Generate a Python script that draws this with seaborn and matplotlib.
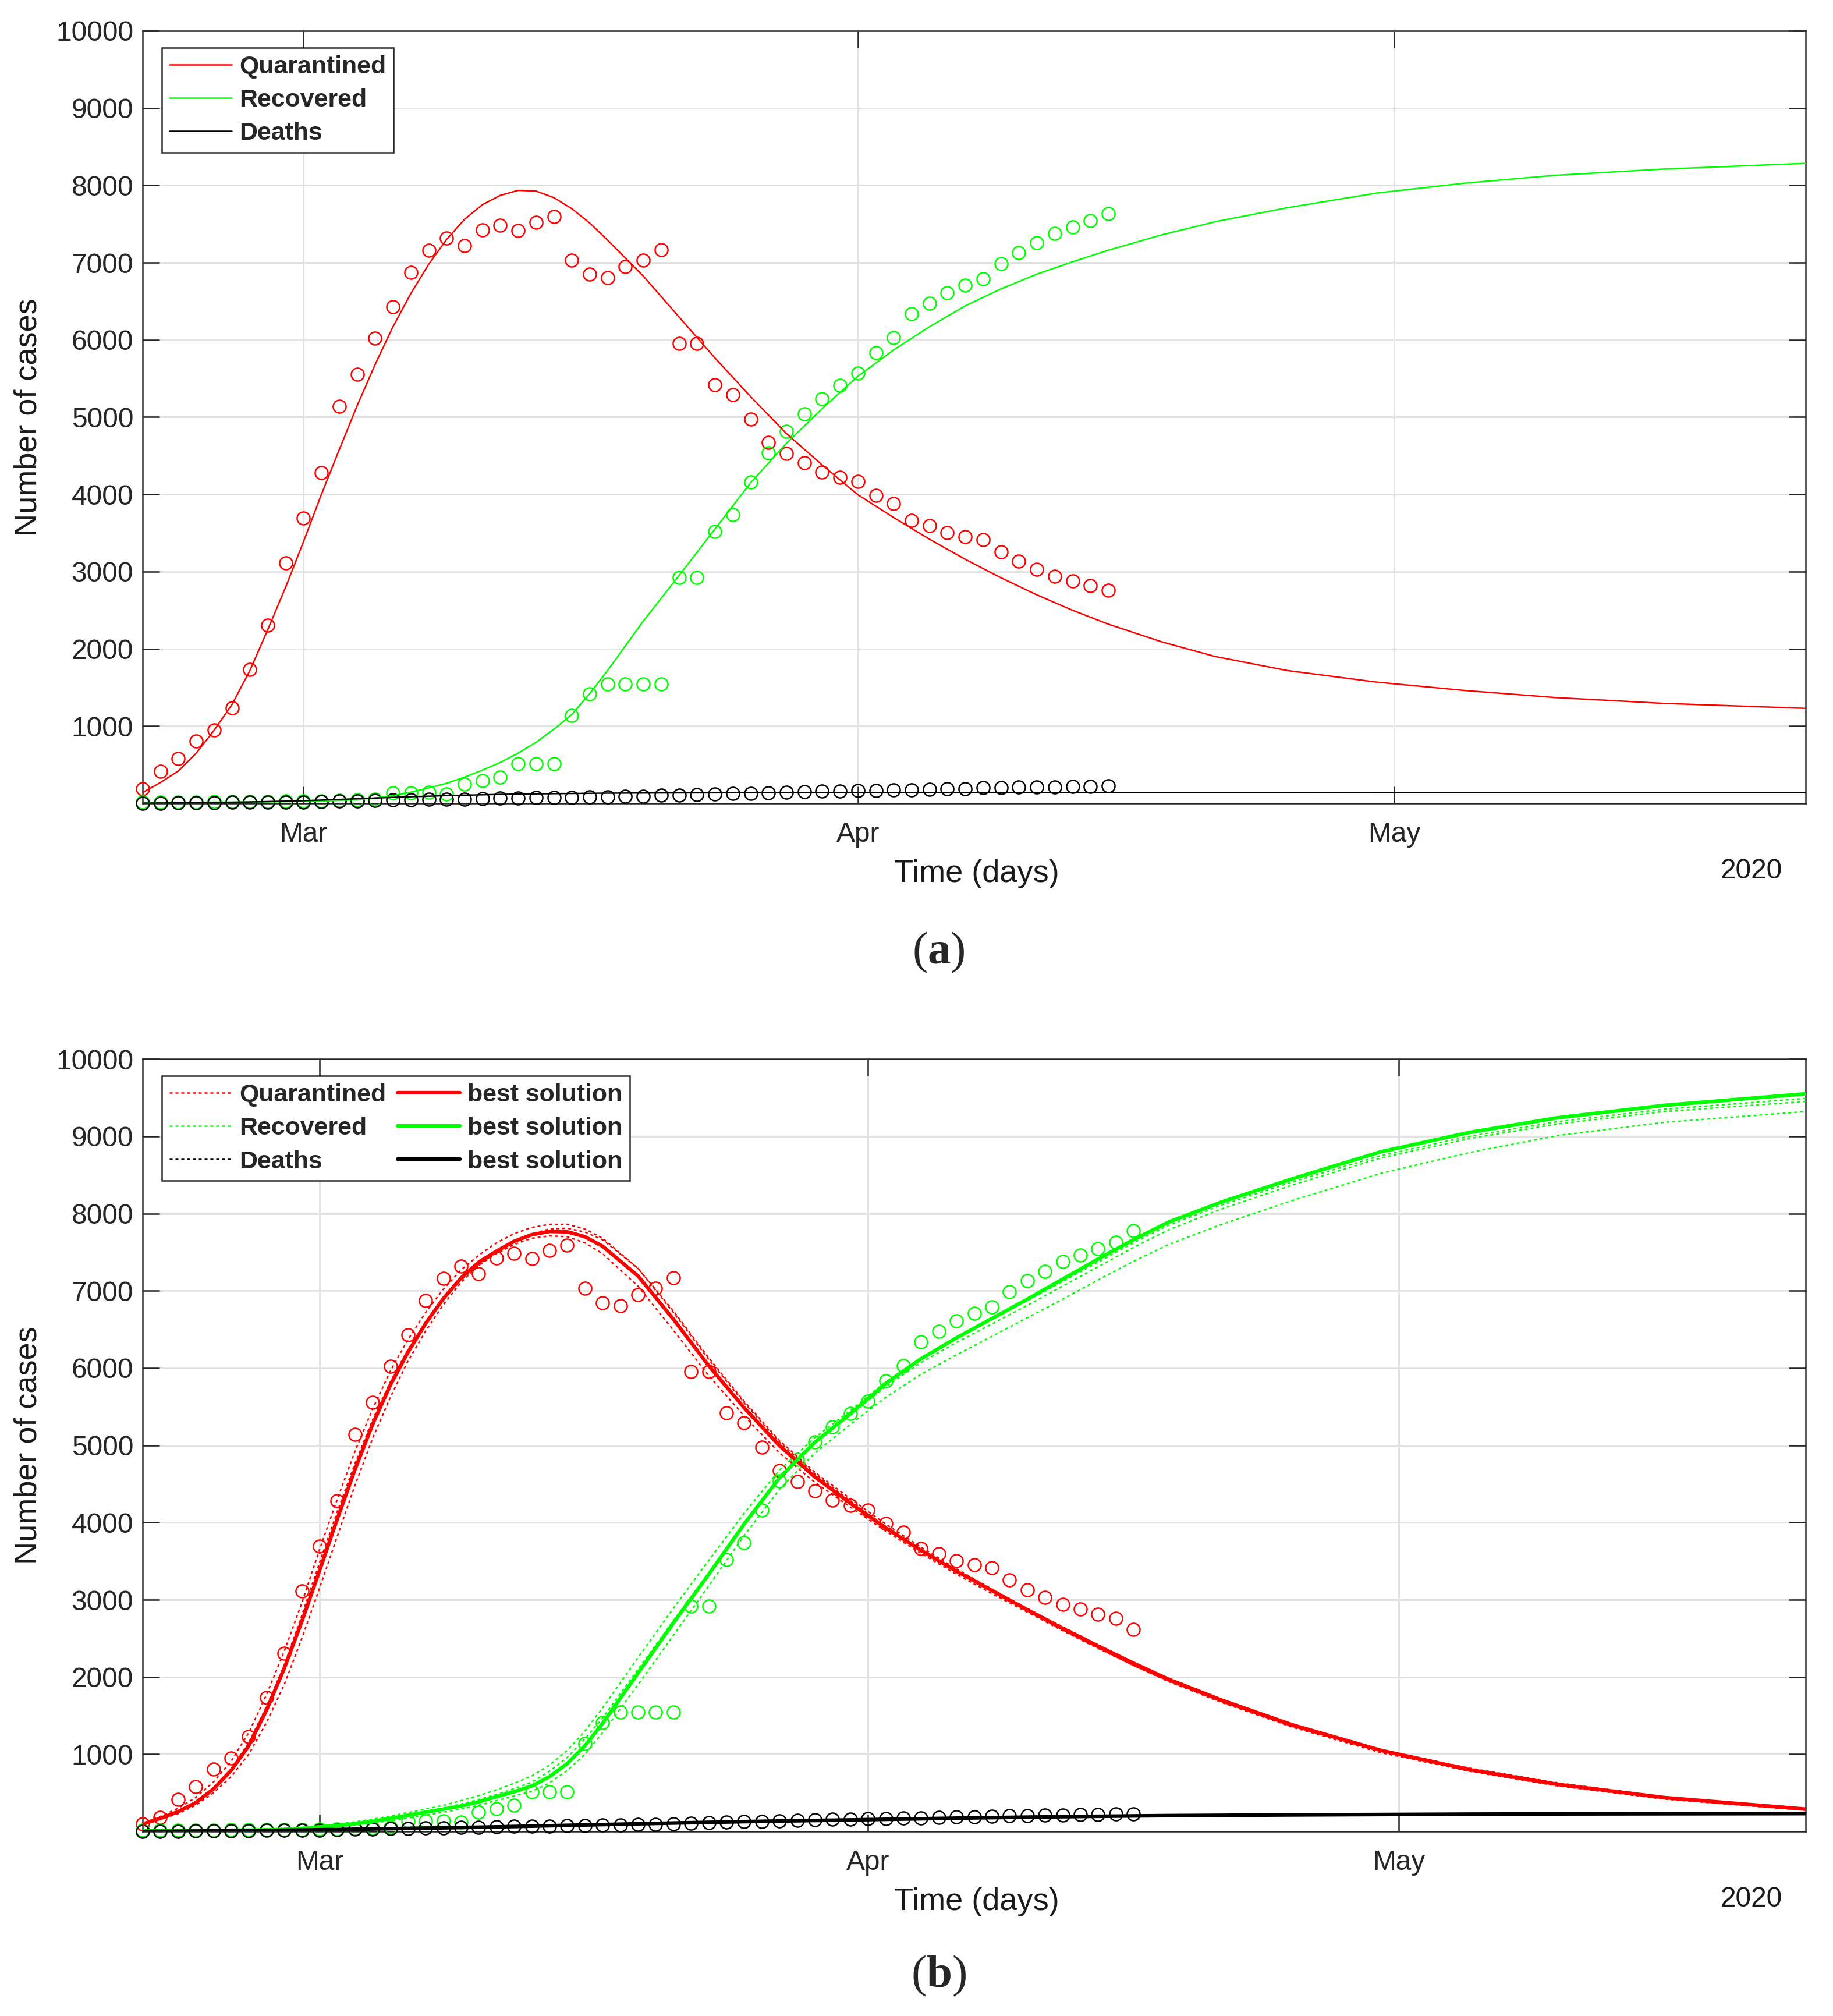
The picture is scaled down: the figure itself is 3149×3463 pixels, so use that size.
import numpy as np
import pandas as pd
import matplotlib
matplotlib.use('Agg')
import matplotlib.pyplot as plt
import matplotlib.dates as mdates
from matplotlib.lines import Line2D
import seaborn as sns

# observed data, one value per day from 20 Feb to 16 Apr 2020
data_start = '2020-02-20'
quarantined_obs = [98,
                   185, 418, 582, 810, 947, 1233, 1735, 2307, 3111, 3693,
                   4280, 5138, 5556, 6021, 6429, 6873, 7159, 7317, 7222, 7423,
                   7481, 7413, 7519, 7593, 7032, 6847, 6804, 6947, 7032, 7169,
                   5952, 5952, 5418, 5291, 4974, 4672, 4529, 4407, 4286, 4222,
                   4164, 3984, 3878, 3661, 3598, 3503, 3450, 3413, 3254, 3132,
                   3032, 2937, 2878, 2815, 2757,
                   2615]
recovered_obs = [16,
                 16, 16, 18, 18, 22, 22, 22, 22, 27, 30,
                 30, 41, 45, 55, 135, 135, 140, 120, 250, 296,
                 338, 513, 513, 513, 1138, 1413, 1545, 1545, 1545, 1545,
                 2921, 2921, 3519, 3741, 4159, 4534, 4815, 5042, 5238, 5413,
                 5571, 5836, 6032, 6339, 6476, 6608, 6709, 6788, 6989, 7132,
                 7254, 7381, 7460, 7545, 7630,
                 7776]
deaths_obs = [1,
              2, 2, 6, 8, 11, 12, 13, 16, 17, 17,
              22, 28, 32, 35, 42, 44, 50, 51, 54, 60,
              66, 67, 72, 75, 75, 81, 84, 91, 94, 102,
              104, 111, 120, 126, 131, 139, 144, 152, 158, 162,
              165, 169, 174, 177, 183, 186, 192, 200, 204, 208,
              211, 214, 217, 222, 225,
              229]

# model curve of panel (a), days counted from 20 Feb
fit_days_a = [1, 2, 3, 4, 5, 6, 7, 8, 9, 10, 11, 12, 13, 14, 15, 16, 17, 18, 19, 20,
              21, 22, 23, 24, 25, 26, 27, 29, 31, 33, 35, 37, 39,
              41, 43, 45, 47, 49, 51, 53, 55, 58, 61, 65, 70, 75, 80, 86, 94]
quar_fit_a = [140, 270, 420, 650, 947, 1280, 1720, 2250, 2800, 3390,
              4000, 4580, 5150, 5680, 6170, 6600, 6980, 7300, 7560, 7750,
              7870, 7935, 7926, 7841, 7698, 7513, 7291,
              6825, 6296, 5767, 5265, 4788, 4380,
              3995, 3700, 3420, 3160, 2920, 2700, 2500, 2320, 2090, 1900,
              1720, 1570, 1460, 1370, 1295, 1230]
rec_fit_a = [10, 11, 12, 13, 15, 16, 18, 20, 22, 26,
             30, 38, 50, 70, 100, 145, 200, 260, 340, 430,
             530, 650, 790, 960, 1150, 1420, 1720,
             2360, 2950, 3550, 4150, 4660, 5110,
             5529, 5870, 6170, 6440, 6660, 6850, 7010, 7160, 7360, 7530,
             7710, 7900, 8030, 8130, 8210, 8285]
death_fit_a = [3, 4, 6, 8, 11, 14, 18, 23, 28, 35,
               42, 51, 60, 69, 78, 86, 93, 100, 106, 111,
               116, 120, 123, 126, 128, 130, 132,
               134, 136, 137, 138, 138, 139,
               139, 139, 139, 140, 140, 140, 140, 140, 140, 140,
               140, 141, 141, 141, 141, 141]

# model runs of panel (b)
fit_days_b = [0, 1, 2, 3, 4, 5, 6, 7, 8, 9, 10, 11, 12, 13, 14, 15, 16, 17, 18, 19,
              20, 21, 22, 23, 24, 25, 26, 28, 30, 32, 34, 36, 38, 40,
              42, 44, 46, 48, 50, 52, 54, 56, 58, 61, 65, 70, 75, 80, 86, 94]
quar_best_b = [97, 170, 256, 374, 550, 790, 1110, 1570, 2110, 2720,
               3378, 4044, 4685, 5271, 5778, 6205, 6578, 6899, 7165, 7370,
               7512, 7640, 7726, 7768, 7763, 7699, 7576,
               7192, 6632, 6029, 5485, 4994, 4590, 4250,
               3930, 3640, 3370, 3120, 2870, 2630, 2400, 2180, 1970, 1700,
               1380, 1050, 800, 610, 440, 290]
quar_run1_b = [110, 195, 300, 440, 640, 910, 1280, 1770, 2330, 2960,
               3650, 4300, 4920, 5470, 5960, 6370, 6720, 7020, 7270, 7460,
               7620, 7740, 7820, 7860, 7860, 7800, 7680,
               7290, 6720, 6110, 5550, 5040, 4630, 4280,
               3950, 3650, 3370, 3110, 2860, 2610, 2380, 2150, 1940, 1670,
               1350, 1020, 780, 590, 420, 275]
quar_run2_b = [95, 165, 250, 380, 560, 810, 1150, 1620, 2150, 2800,
               3480, 4140, 4760, 5330, 5820, 6240, 6590, 6890, 7140, 7330,
               7480, 7600, 7680, 7710, 7700, 7620, 7480,
               7060, 6490, 5900, 5380, 4900, 4520, 4200,
               3890, 3600, 3330, 3080, 2840, 2600, 2370, 2150, 1950, 1680,
               1360, 1040, 800, 610, 430, 280]
quar_run3_b = [90, 155, 230, 340, 500, 710, 1000, 1410, 1900, 2500,
               3150, 3820, 4480, 5090, 5620, 6090, 6480, 6820, 7110, 7330,
               7500, 7630, 7740, 7800, 7810, 7760, 7660,
               7290, 6740, 6130, 5570, 5060, 4650, 4310,
               3980, 3680, 3400, 3140, 2890, 2650, 2420, 2190, 1980, 1710,
               1390, 1060, 820, 630, 450, 300]
rec_best_b = [8, 9, 10, 12, 14, 16, 18, 22, 28, 40,
              60, 78, 100, 130, 170, 210, 250, 290, 330, 385,
              450, 515, 590, 710, 880, 1110, 1400,
              2050, 2700, 3330, 3980, 4580, 5040, 5408,
              5800, 6120, 6390, 6640, 6890, 7150, 7410, 7660, 7890, 8150,
              8450, 8800, 9050, 9240, 9400, 9550]
rec_run1_b = [10, 11, 12, 14, 16, 19, 22, 27, 35, 50,
              75, 98, 125, 160, 200, 245, 290, 340, 400, 465,
              540, 625, 720, 860, 1050, 1300, 1600,
              2250, 2890, 3510, 4120, 4680, 5100, 5450,
              5820, 6130, 6390, 6630, 6870, 7120, 7370, 7620, 7850, 8110,
              8410, 8750, 9000, 9190, 9350, 9490]
rec_run2_b = [7, 8, 9, 10, 12, 14, 16, 19, 24, 34,
              50, 66, 85, 110, 140, 175, 210, 250, 290, 340,
              400, 460, 520, 630, 790, 1000, 1280,
              1900, 2540, 3180, 3830, 4430, 4900, 5270,
              5620, 5920, 6170, 6410, 6650, 6890, 7140, 7380, 7600, 7860,
              8170, 8520, 8790, 9010, 9180, 9320]
rec_run3_b = [8, 9, 11, 13, 15, 17, 20, 24, 31, 45,
              65, 85, 110, 140, 175, 215, 260, 305, 355, 415,
              480, 555, 640, 780, 960, 1200, 1470,
              2100, 2730, 3350, 3990, 4580, 5030, 5390,
              5760, 6070, 6330, 6570, 6810, 7060, 7310, 7560, 7790, 8060,
              8370, 8720, 8970, 9160, 9320, 9450]
death_best_b = [1, 2, 4, 6, 8, 10, 12, 14, 17, 20,
                23, 26, 30, 33, 37, 40, 44, 48, 52, 56,
                60, 65, 70, 75, 80, 85, 90,
                100, 110, 119, 128, 136, 143, 150,
                158, 165, 173, 180, 186, 192, 197, 202, 206, 210,
                215, 220, 225, 228, 230, 232]
death_run1_b = [1, 2, 4, 6, 9, 11, 13, 16, 19, 22,
                25, 29, 33, 36, 40, 44, 48, 52, 56, 60,
                64, 69, 74, 79, 84, 89, 94,
                104, 114, 123, 132, 140, 147, 154,
                162, 169, 176, 183, 189, 195, 200, 205, 209, 213,
                218, 223, 228, 231, 233, 235]
death_run2_b = [1, 2, 3, 5, 7, 9, 11, 13, 15, 18,
                21, 24, 27, 30, 34, 37, 41, 44, 48, 52,
                56, 61, 66, 71, 76, 81, 86,
                96, 106, 115, 124, 132, 139, 146,
                154, 161, 169, 176, 182, 188, 193, 198, 202, 206,
                211, 216, 221, 224, 226, 228]

sns.set_theme(style='white')
plt.rcParams['font.family'] = ['Liberation Sans', 'DejaVu Sans']
plt.rcParams['mathtext.fontset'] = 'custom'
plt.rcParams['mathtext.rm'] = 'Liberation Serif'
plt.rcParams['mathtext.bf'] = 'Liberation Serif:bold'

RED, GREEN, BLACK = '#ff0000', '#00ff00', '#000000'
AXC = '#262626'
DOT = (0, (2.0, 2.0))

origin = mdates.date2num(pd.Timestamp(data_start))


def xs(days):
    return origin + np.asarray(days, dtype=float)


def plot_obs(ax, days, vals, color):
    sns.lineplot(x=xs(days), y=vals, ax=ax, color=color, linestyle='none',
                 marker='o', markersize=5.3, markerfacecolor='none',
                 markeredgecolor=color, markeredgewidth=0.6,
                 estimator=None, errorbar=None, legend=False, clip_on=False, zorder=3)


def plot_fit(ax, days, vals, color, lw, ls='-'):
    sns.lineplot(x=xs(days), y=vals, ax=ax, color=color, linewidth=lw, linestyle=ls,
                 estimator=None, errorbar=None, sort=False, legend=False, zorder=4)


def style_axes(ax, first_day):
    ax.set_xlim(xs([first_day, 94]))
    ax.set_ylim(0, 10000)
    ax.set_yticks(range(1000, 10001, 1000))
    ax.xaxis.set_major_locator(mdates.MonthLocator())
    ax.xaxis.set_major_formatter(mdates.DateFormatter('%b'))
    ax.grid(True, color='#e2e2e2', linewidth=0.7)
    ax.set_axisbelow(True)
    ax.tick_params(direction='in', length=6.9, width=0.6, color=AXC, labelcolor=AXC,
                   labelsize=11.5, top=True, right=True, bottom=True, left=True)
    ax.tick_params(axis='x', pad=7.5)
    ax.tick_params(axis='y', pad=3.8)
    for s in ax.spines.values():
        s.set_visible(True)
        s.set_color(AXC)
        s.set_linewidth(0.6)
    ax.set_xlabel('')
    ax.set_ylabel('')
    ax.text(-0.0686, 0.5, 'Number of cases', rotation=90, ha='center', va='center',
            transform=ax.transAxes, fontsize=13, color='#1a1a1a')
    ax.text(0.5016, -0.091, 'Time (days)', ha='center', va='center',
            transform=ax.transAxes, fontsize=13, color='#1a1a1a')
    ax.text(0.986, -0.088, '2020', ha='right', va='center',
            transform=ax.transAxes, fontsize=11.5, color='#1a1a1a')


fig = plt.figure(figsize=(3149 / 300, 3463 / 300), dpi=300)
ax_a = fig.add_axes([0.0778, 0.6015, 0.9073, 0.3832])
ax_b = fig.add_axes([0.0778, 0.0915, 0.9073, 0.3832])

obs_days = np.arange(len(quarantined_obs))

# (a) single fit, data from 21 Feb to 15 Apr
plot_obs(ax_a, obs_days[1:-1], quarantined_obs[1:-1], RED)
plot_obs(ax_a, obs_days[1:-1], recovered_obs[1:-1], GREEN)
plot_obs(ax_a, obs_days[1:-1], deaths_obs[1:-1], BLACK)
plot_fit(ax_a, fit_days_a, quar_fit_a, RED, 0.6)
plot_fit(ax_a, fit_days_a, rec_fit_a, GREEN, 0.6)
plot_fit(ax_a, fit_days_a, death_fit_a, BLACK, 0.6)
style_axes(ax_a, 1)

# (b) several runs and the best solution
plot_obs(ax_b, obs_days, quarantined_obs, RED)
plot_obs(ax_b, obs_days, recovered_obs, GREEN)
plot_obs(ax_b, obs_days, deaths_obs, BLACK)
for run in (quar_run1_b, quar_run2_b, quar_run3_b):
    plot_fit(ax_b, fit_days_b, run, RED, 0.6, DOT)
for run in (rec_run1_b, rec_run2_b, rec_run3_b):
    plot_fit(ax_b, fit_days_b, run, GREEN, 0.6, DOT)
for run in (death_run1_b, death_run2_b):
    plot_fit(ax_b, fit_days_b, run, BLACK, 0.6, DOT)
plot_fit(ax_b, fit_days_b, quar_best_b, RED, 1.5)
plot_fit(ax_b, fit_days_b, rec_best_b, GREEN, 1.5)
plot_fit(ax_b, fit_days_b, death_best_b, BLACK, 1.5)
style_axes(ax_b, 0)

leg_kw = dict(loc='upper left', bbox_to_anchor=(0.0116, 0.978), borderaxespad=0,
              frameon=True, fancybox=False, framealpha=1, edgecolor=AXC,
              prop={'weight': 'bold', 'size': 10.3}, handlelength=2.5,
              handletextpad=0.3, borderpad=0.3, labelspacing=0.4)

h_a = [Line2D([], [], color=c, lw=0.6) for c in (RED, GREEN, BLACK)]
leg = ax_a.legend(h_a, ['Quarantined', 'Recovered', 'Deaths'], **leg_kw)
leg.get_frame().set_linewidth(0.6)

h_b = [Line2D([], [], color=c, lw=0.6, linestyle=DOT) for c in (RED, GREEN, BLACK)]
h_b += [Line2D([], [], color=c, lw=1.5) for c in (RED, GREEN, BLACK)]
leg = ax_b.legend(h_b, ['Quarantined', 'Recovered', 'Deaths'] + ['best solution'] * 3,
                  ncol=2, columnspacing=0.45, **leg_kw)
leg.get_frame().set_linewidth(0.6)

fig.text(0.512, 0.5276, r'($\mathbf{a}$)', fontfamily='Liberation Serif', fontsize=19,
         ha='center', va='center')
fig.text(0.512, 0.0199, r'($\mathbf{b}$)', fontfamily='Liberation Serif', fontsize=19,
         ha='center', va='center')

fig.savefig('out.png', dpi=300, facecolor='white')
